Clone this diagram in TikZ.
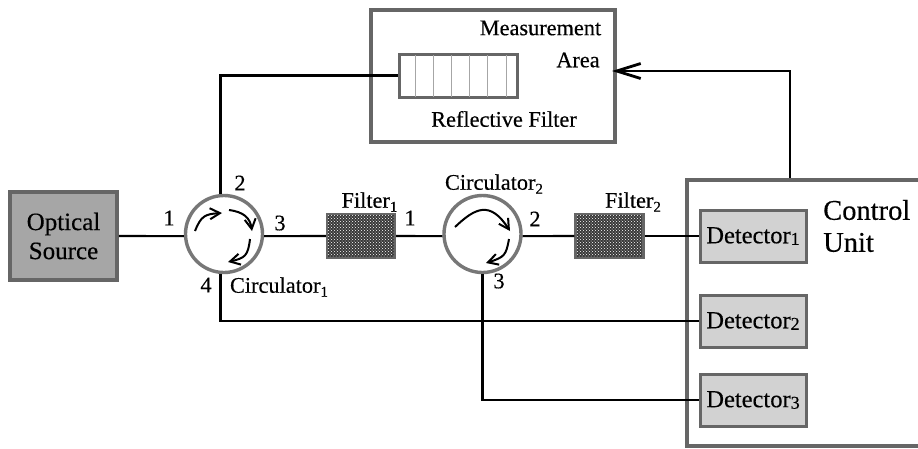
\documentclass[tikz,border=0pt]{standalone}
\usepackage{fontspec}
\setmainfont[RawFeature={embolden=0.35}]{Liberation Serif}
\usetikzlibrary{patterns,arrows.meta}
\definecolor{edgegray}{HTML}{666666}
\definecolor{circgray}{HTML}{777777}
\definecolor{fillgray}{HTML}{D2D2D2}
\definecolor{srcgray}{HTML}{A6A6A6}
\newcommand{\lowsub}[1]{\raisebox{-4pt}{\fontsize{15pt}{15pt}\selectfont #1}}
\newcommand{\detsub}[1]{\raisebox{-1.5pt}{\fontsize{18pt}{18pt}\selectfont #1}}
\tikzset{
  lbl/.style={inner sep=0pt,font=\fontsize{22.3pt}{24pt}\selectfont,text=black},
  wire/.style={draw=black,line width=2.1pt},
  circ/.style={circle,draw=circgray,line width=3.4pt,fill=white,minimum size=77pt,inner sep=0pt},
  filt/.style={rectangle,draw=edgegray,line width=2.4pt,minimum width=68pt,minimum height=44pt,inner sep=0pt,preaction={fill=black!78},pattern=crosshatch dots,pattern color=white},
  det/.style={rectangle,draw=edgegray,line width=3pt,fill=fillgray,minimum width=106pt,minimum height=52pt,inner sep=0pt,font=\fontsize{24.5pt}{26pt}\selectfont},
  curl/.style={draw=black,line width=2pt,-{Straight Barb[length=10pt,width=11pt]}},
  frame/.style={rectangle,draw=edgegray,line width=3.5pt,inner sep=0pt},
}
\begin{document}
\begin{tikzpicture}[x=1pt,y=-1pt]
\useasboundingbox (0,0) rectangle (918,448);
\fill[white] (0,0) rectangle (918,448);
\node[circ] (c1) at (224,234) {};
\node[circ] (c2) at (482.5,234) {};
\node[filt] (f1) at (361,236) {};
\node[filt] (f2) at (609.5,236) {};
\node[frame,fill=srcgray,minimum width=107pt,minimum height=88pt,align=center,font=\fontsize{25pt}{29pt}\selectfont] (src) at (63.5,236) {Optical\\Source};
\node[frame,minimum width=244pt,minimum height=132pt] (meas) at (493,76) {};
\node[frame,line width=3pt,minimum width=118pt,minimum height=43pt] (rf) at (458,75.5) {};
\foreach \xx in {415,433,451,469,487,506}{\draw[gray!70,line width=.8pt] (\xx,55) -- (\xx,97);}
\node[frame,minimum width=240pt,minimum height=266pt] (cu) at (807,313) {};
\node[det] (d1) at (753,236) {Detector\detsub{1}};
\node[det] (d2) at (753,321) {Detector\detsub{2}};
\node[det] (d3) at (753,400) {Detector\detsub{3}};
\coordinate (ain) at (612,71);
\coordinate (bend) at (790,71);
\coordinate (cuout) at (790,178);
\draw[wire] (src.east) -- (c1.183);
\draw[wire] (c1.-3) -- (f1.west);
\draw[wire] (f1.east) -- (c2.183);
\draw[wire] (c2.-3) -- (f2.west);
\draw[wire] (f2.east) -- (d1.west);
\draw[wire] (c1.95) |- (rf.west);
\draw[wire] (c1.265) |- (d2.west);
\draw[wire] (c2.south) |- (d3.west);
\draw[wire,-{Straight Barb[length=24pt,width=15pt,line width=2.8pt]}] (cuout) -- (bend) -- (ain);
\draw[curl] (195,231) .. controls (201,216) and (205,214) .. (222,213);
\draw[curl] (229,210) .. controls (244,212) and (250,218) .. (252,231);
\draw[curl] (250,239) .. controls (248,256) and (245,258) .. (228,262);
\draw[curl] (455,227) .. controls (475,208) and (490,200) .. (510,231);
\draw[curl] (509,239) .. controls (506,255) and (505,257) .. (486,263);
\node[lbl] at (169,218) {1};
\node[lbl] at (240,183) {2};
\node[lbl] at (280,223) {3};
\node[lbl] at (206,285) {4};
\node[lbl] at (279,287) {Circulator\lowsub{1}};
\node[lbl] at (369.5,202) {Filter\lowsub{1}};
\node[lbl] at (410,218) {1};
\node[lbl] at (494,184) {Circulator\lowsub{2}};
\node[lbl] at (535,219) {2};
\node[lbl] at (499,281) {3};
\node[lbl] at (633,202) {Filter\lowsub{2}};
\node[lbl] at (540.5,28) {Measurement};
\node[lbl] at (578,60) {Area};
\node[lbl] at (504,119) {Reflective Filter};
\node[inner sep=0pt,anchor=west,align=left,font=\fontsize{28.5pt}{32pt}\selectfont] at (823,226) {Control\\Unit};
\end{tikzpicture}
\end{document}
